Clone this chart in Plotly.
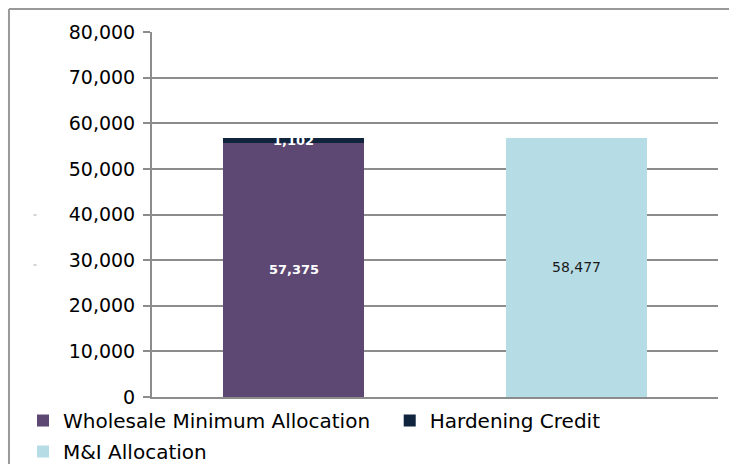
import plotly.graph_objects as go

categories = ["Wholesale", "M&I"]
wholesale_min = [55700, None]
hardening_credit = [1102, None]
mi_allocation = [None, 56800]
label_wholesale = "57,375"
label_hardening = "1,102"
label_mi = "58,477"

y_ticks = [0, 10000, 20000, 30000, 40000, 50000, 60000, 70000, 80000]

C_PURPLE = "#5D4874"
C_NAVY = "#10243E"
C_LIGHT = "#B6DCE5"
GRID = "#8C8C8C"
FONT = "DejaVu Sans"

fig = go.Figure()
fig.add_trace(go.Bar(name="Wholesale Minimum Allocation", x=categories, y=wholesale_min,
                     legend="legend", legendgroup="a",
                     marker=dict(color=C_PURPLE, line=dict(width=0))))
fig.add_trace(go.Bar(name="Hardening Credit", x=categories, y=hardening_credit,
                     legend="legend2",
                     marker=dict(color=C_NAVY, line=dict(width=0))))
fig.add_trace(go.Bar(name="M&I Allocation", x=categories, y=mi_allocation,
                     legend="legend", legendgroup="b",
                     marker=dict(color=C_LIGHT, line=dict(width=0))))

# data labels at segment midpoints
annos = [
    dict(x=categories[0], y=wholesale_min[0] / 2, text=label_wholesale,
         font=dict(family=FONT, size=13, color="white", weight="bold")),
    dict(x=categories[0], y=wholesale_min[0] + hardening_credit[0] / 2, text=label_hardening,
         font=dict(family=FONT, size=13, color="white", weight="bold")),
    dict(x=categories[1], y=mi_allocation[1] / 2, text=label_mi,
         font=dict(family=FONT, size=14, color="#1a1a1a")),
]
for a in annos:
    a.update(xref="x", yref="y", showarrow=False, xanchor="center", yanchor="middle")

shapes = [
    # outer chart border (left and top edges visible)
    dict(type="line", xref="paper", yref="paper", x0=-0.2527, x1=-0.2527, y0=1.063, y1=-0.3,
         line=dict(color="#999999", width=2)),
    dict(type="line", xref="paper", yref="paper", x0=-0.2527, x1=1.1, y0=1.063, y1=1.063,
         line=dict(color="#999999", width=2)),
    # faint marks at left
    dict(type="line", xref="paper", yref="paper", x0=-0.2095, x1=-0.2040, y0=0.4986, y1=0.4986,
         line=dict(color="#aaaaaa", width=1)),
    dict(type="line", xref="paper", yref="paper", x0=-0.2095, x1=-0.2040, y0=0.3616, y1=0.3616,
         line=dict(color="#aaaaaa", width=1)),
]

legend_font = dict(family=FONT, size=20, color="black")
fig.update_layout(
    width=729, height=464,
    margin=dict(l=152, r=11, t=32, b=67, autoexpand=False),
    paper_bgcolor="white", plot_bgcolor="white",
    barmode="stack", bargap=0.5,
    font=dict(family=FONT, color="black"),
    showlegend=True,
    legend=dict(orientation="v", x=-0.2279, xanchor="left", y=-0.011, yanchor="top",
                font=legend_font, tracegroupgap=2, traceorder="grouped",
                bgcolor="rgba(0,0,0,0)"),
    legend2=dict(orientation="v", x=0.42, xanchor="left", y=-0.011, yanchor="top",
                 font=legend_font, bgcolor="rgba(0,0,0,0)"),
    annotations=annos,
    shapes=shapes,
)
fig.update_yaxes(range=[0, 80000], tickvals=y_ticks, tickformat=",",
                 showgrid=True, gridcolor=GRID, gridwidth=2,
                 showline=True, linecolor=GRID, linewidth=2,
                 ticks="outside", ticklen=7, tickcolor=GRID, tickwidth=2,
                 ticklabelstandoff=4,
                 tickfont=dict(family=FONT, size=19, color="black"),
                 zeroline=False)
fig.update_xaxes(showticklabels=False, showline=True, linecolor=GRID, linewidth=2,
                 showgrid=False, ticks="", zeroline=False)

fig.write_html("out.html", config={"displayModeBar": False},
               post_script="document.body.style.margin='0';")
